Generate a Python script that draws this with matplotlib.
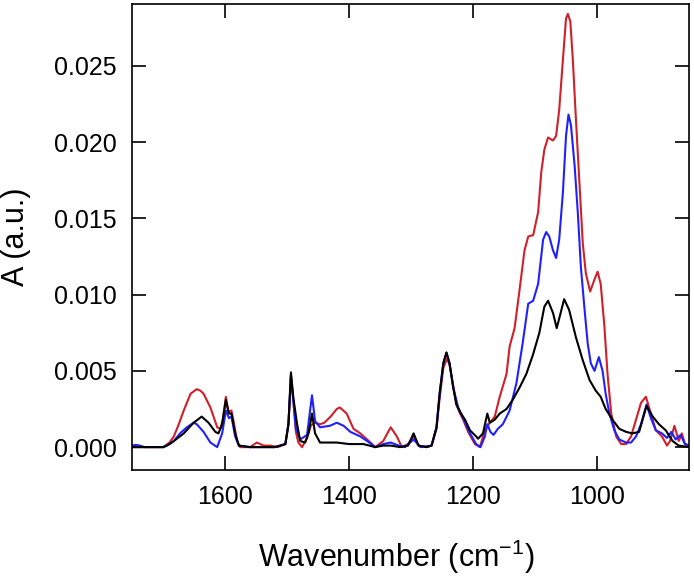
import matplotlib
matplotlib.use('Agg')
import matplotlib.pyplot as plt

plt.rcParams['font.family'] = ['Liberation Sans', 'DejaVu Sans']
plt.rcParams['mathtext.fontset'] = 'custom'
plt.rcParams['mathtext.rm'] = 'Liberation Sans'
plt.rcParams['mathtext.it'] = 'Liberation Sans:italic'

# spectra (wavenumber in cm-1, absorbance)
wn_red = [1750, 1720, 1700, 1690, 1683, 1675, 1667, 1656, 1646, 1640, 1635, 1624, 1613, 1608,
          1604, 1599, 1595, 1590, 1587, 1581, 1576, 1560, 1549, 1538, 1527, 1515, 1503, 1498,
          1494, 1490, 1486, 1482, 1476, 1468, 1462, 1455, 1447, 1440, 1430, 1420, 1415, 1404,
          1393, 1382, 1371, 1358, 1345, 1333, 1323, 1315, 1305, 1296, 1288, 1275, 1267, 1259,
          1254, 1248, 1242, 1238, 1232, 1227, 1221, 1216, 1208, 1197, 1189, 1181, 1173, 1165,
          1157, 1146, 1141, 1133, 1125, 1117, 1111, 1103, 1095, 1090, 1085, 1079, 1071, 1066,
          1061, 1055, 1050, 1047, 1043, 1039, 1034, 1028, 1023, 1018, 1011, 1004, 999, 994,
          988, 983, 977, 969, 961, 953, 945, 937, 929, 921, 913, 905, 895, 887, 882, 875, 868,
          863, 858, 850]
a_red = [0, 0, 0, 0.0003, 0.0007, 0.0015, 0.0024, 0.0035, 0.0038, 0.0037, 0.0035, 0.0026, 0.0013, 0.0012,
         0.0018, 0.0033, 0.0023, 0.0024, 0.0018, 0.0004, 0.0, 0, 0.0003, 0.0001, 0.0001, 0, 0.0002, 0.0015,
         0.0046, 0.0030, 0.0010, 0.0003, 0.0, 0.0006, 0.0014, 0.0016, 0.0015, 0.0016, 0.0020, 0.0025, 0.0026, 0.0022,
         0.0012, 0.0009, 0.0005, 0, 0.0004, 0.0013, 0.0007, 0, 0.0002, 0.0007, 0.0001, 0, 0.0001, 0.0012,
         0.0032, 0.0052, 0.0058, 0.0054, 0.0040, 0.0028, 0.0022, 0.0018, 0.0010, 0.0002, 0, 0.0011, 0.0016, 0.0020,
         0.0033, 0.0048, 0.0066, 0.0078, 0.0103, 0.0129, 0.0138, 0.0139, 0.0154, 0.0180, 0.0195, 0.0203, 0.0201, 0.0204,
         0.0221, 0.0254, 0.0281, 0.0284, 0.0279, 0.0254, 0.0215, 0.0171, 0.0134, 0.0114, 0.0102, 0.0110, 0.0115, 0.0107,
         0.0079, 0.0048, 0.0022, 0.0007, 0.0002, 0.0002, 0.0007, 0.0018, 0.0029, 0.0033, 0.0022, 0.0011, 0.0007, 0.0001, 0.0004, 0.0014, 0.0004,
         0.0009, 0.0002, 0.0001]

wn_blue = [1750, 1745, 1738, 1730, 1700, 1694, 1683, 1673, 1662, 1651, 1646, 1635, 1624, 1613,
           1605, 1599, 1594, 1590, 1584, 1578, 1560, 1520, 1503, 1498, 1494, 1490, 1486, 1479,
           1468, 1460, 1455, 1447, 1431, 1420, 1409, 1398, 1382, 1371, 1358, 1345, 1333, 1320,
           1310, 1296, 1285, 1267, 1259, 1254, 1248, 1243, 1238, 1232, 1224, 1216, 1205, 1195,
           1188, 1181, 1177, 1172, 1167, 1160, 1152, 1141, 1130, 1120, 1111, 1103, 1095, 1087,
           1082, 1077, 1071, 1066, 1061, 1055, 1050, 1046, 1042, 1036, 1031, 1026, 1020, 1015,
           1010, 1004, 997, 991, 986, 980, 972, 964, 953, 945, 937, 929, 920, 913, 905, 895,
           887, 880, 873, 865, 858, 850]
a_blue = [0.0001, 0.00015, 0.0001, 0, 0, 0.0001, 0.0004, 0.0009, 0.0013, 0.0016, 0.0015, 0.0010, 0.0003, 0,
          0.0009, 0.0024, 0.0019, 0.0020, 0.0007, 0.0001, 0, 0, 0.0002, 0.0015, 0.0047, 0.0030, 0.0012, 0.0005,
          0.0008, 0.0034, 0.0017, 0.0013, 0.0014, 0.0016, 0.0014, 0.0010, 0.0007, 0.0004, 0, 0.0002, 0.0003, 0.0001,
          0, 0.0005, 0, 0.0001, 0.0013, 0.0035, 0.0055, 0.0062, 0.0055, 0.0039, 0.0026, 0.0019, 0.0009, 0.0002,
          0, 0.0007, 0.0015, 0.0010, 0.0008, 0.0012, 0.0015, 0.0024, 0.0042, 0.0068, 0.0094, 0.0096, 0.0107, 0.0136,
          0.0141, 0.0138, 0.0129, 0.0124, 0.0136, 0.0167, 0.0204, 0.0218, 0.0211, 0.0184, 0.0154, 0.0118, 0.0090, 0.0068,
          0.0055, 0.0050, 0.0059, 0.0050, 0.0035, 0.0022, 0.0011, 0.0005, 0.0003, 0.0003, 0.0007, 0.0015, 0.0028, 0.0019, 0.0011, 0.0009,
          0.0006, 0.0010, 0.0005, 0.0008, 0.0002, 0.0001]

wn_black = [1750, 1700, 1690, 1683, 1667, 1651, 1638, 1627, 1616, 1611, 1605, 1599, 1594, 1590,
            1584, 1578, 1560, 1520, 1503, 1498, 1494, 1490, 1484, 1479, 1471, 1465, 1460, 1455,
            1447, 1420, 1400, 1377, 1358, 1345, 1333, 1318, 1305, 1296, 1288, 1275, 1267, 1259,
            1254, 1248, 1243, 1238, 1232, 1227, 1221, 1213, 1205, 1195, 1192, 1184, 1177, 1173,
            1165, 1157, 1146, 1136, 1125, 1114, 1103, 1093, 1085, 1079, 1071, 1065, 1058, 1053,
            1045, 1034, 1023, 1012, 1002, 994, 986, 975, 964, 953, 943, 932, 925, 920, 910, 900,
            889, 878, 868, 850]
a_black = [0, 0, 0.0002, 0.0004, 0.0009, 0.0016, 0.0020, 0.0016, 0.0010, 0.0009, 0.0015, 0.0031, 0.0022, 0.0022,
           0.0009, 0.0001, 0, 0, 0.0002, 0.0015, 0.0049, 0.0032, 0.0015, 0.0004, 0.0003, 0.0010, 0.0022, 0.0009,
           0.0003, 0.0003, 0.0002, 0.0002, 0, 0.0001, 0.0001, 0, 0.0001, 0.0009, 0.0001, 0, 0.0001, 0.0013,
           0.0035, 0.0055, 0.0062, 0.0055, 0.0039, 0.0028, 0.0023, 0.0018, 0.0011, 0.0007, 0.00055, 0.0009, 0.0022, 0.0016,
           0.0018, 0.0022, 0.0025, 0.0031, 0.0039, 0.0048, 0.0061, 0.0075, 0.0092, 0.0096, 0.0088, 0.0078, 0.0089, 0.0097,
           0.0090, 0.0072, 0.0057, 0.0044, 0.0037, 0.0033, 0.0025, 0.0018, 0.0012, 0.0010, 0.0009, 0.0010, 0.0020, 0.0027, 0.0020, 0.0015,
           0.0011, 0.0004, 0.0001, 0]

fig = plt.figure(figsize=(6.94, 5.76), dpi=100)
ax = fig.add_axes([131.7 / 694, 106 / 576, 557.6 / 694, 466 / 576])

ax.plot(wn_red, a_red, color='#d0202a', lw=1.5)
ax.plot(wn_blue, a_blue, color='#2020ff', lw=1.5)
ax.plot(wn_black, a_black, color='black', lw=1.5)

ax.set_xlim(1751, 851)
ax.set_ylim(-0.0015, 0.02905)
ax.set_xticks([1600, 1400, 1200, 1000])
ax.set_yticks([0, 0.005, 0.010, 0.015, 0.020, 0.025])
ax.yaxis.set_major_formatter(matplotlib.ticker.FormatStrFormatter('%.3f'))

ax.tick_params(direction='in', length=10, width=1.2, top=True, right=True,
               labelsize=18, pad=11)
for s in ax.spines.values():
    s.set_linewidth(1.2)

ax.set_xlabel('Wavenumber (cm$^{\\mathrm{-1}}$)', fontsize=22)
ax.set_ylabel('A (a.u.)', fontsize=22)
ax.xaxis.set_label_coords(0.474, -0.145)
ax.yaxis.set_label_coords(-0.180, 0.5)

fig.savefig('out.png', dpi=100)
